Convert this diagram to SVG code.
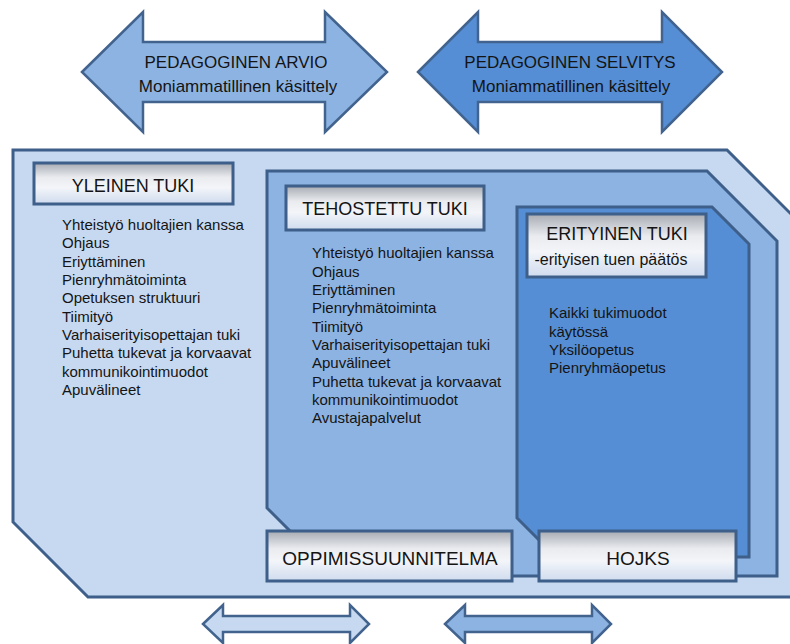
<svg xmlns="http://www.w3.org/2000/svg" width="790" height="644" viewBox="0 0 790 644">
  <defs>
    <linearGradient id="boxGrad" x1="0" y1="0" x2="0" y2="1">
      <stop offset="0" stop-color="#a7abb2"/>
      <stop offset="0.35" stop-color="#e9ebef"/>
      <stop offset="0.6" stop-color="#f3f5f9"/>
      <stop offset="1" stop-color="#cfdbee"/>
    </linearGradient>
  </defs>
  <style>
    .shape { stroke: #3d5f89; stroke-width: 3; stroke-linejoin: miter; }
    .arrow { stroke: #41638e; stroke-width: 2.5; stroke-linejoin: miter; }
    .light { fill: #c6d9f1; }
    .mid { fill: #8db3e2; }
    .dark { fill: #558ed5; }
    .box { fill: url(#boxGrad); stroke: #3d5f89; stroke-width: 3; }
    text { font-family: "Liberation Sans", Arial, sans-serif; fill: #141414; }
    .title { font-size: 18px; text-anchor: middle; }
    .big { font-size: 19px; text-anchor: middle; }
    .arrowtxt { font-size: 17px; text-anchor: middle; }
    .list { font-size: 15px; }
  </style>

  <rect width="790" height="644" fill="#ffffff"/>

  <g id="arvio">
    <polygon class="arrow mid" points="82,72 143,12 143,42 325,42 325,12 387,72 325,132 325,102 143,102 143,132"/>
    <text class="arrowtxt" x="236" y="68">PEDAGOGINEN ARVIO</text>
    <text class="arrowtxt" x="238" y="92">Moniammatillinen käsittely</text>
  </g>

  <g id="selvitys">
    <polygon class="arrow dark" points="418,72 478,12 478,42 662,42 662,12 722,72 662,132 662,102 478,102 478,132"/>
    <text class="arrowtxt" x="570" y="68">PEDAGOGINEN SELVITYS</text>
    <text class="arrowtxt" x="571" y="92">Moniammatillinen käsittely</text>
  </g>

  <g id="yleinen">
    <polygon class="shape light" points="13,150 727,150 794,217 794,597 88,597 13,522"/>
    <rect class="box" x="34" y="163" width="199" height="41"/>
    <text class="title" x="133" y="192">YLEINEN TUKI</text>
    <text class="list" x="62" y="230">
      <tspan x="62" y="230">Yhteistyö huoltajien kanssa</tspan>
      <tspan x="62" y="248.3">Ohjaus</tspan>
      <tspan x="62" y="266.7">Eriyttäminen</tspan>
      <tspan x="62" y="285">Pienryhmätoiminta</tspan>
      <tspan x="62" y="303.3">Opetuksen struktuuri</tspan>
      <tspan x="62" y="321.7">Tiimityö</tspan>
      <tspan x="62" y="340">Varhaiserityisopettajan tuki</tspan>
      <tspan x="62" y="358.3">Puhetta tukevat ja korvaavat</tspan>
      <tspan x="62" y="376.7">kommunikointimuodot</tspan>
      <tspan x="62" y="395">Apuvälineet</tspan>
    </text>
  </g>

  <g id="tehostettu">
    <polygon class="shape mid" points="267,171 707,171 777,241 777,576 335,576 267,508"/>
    <rect class="box" x="286" y="186" width="198" height="44"/>
    <text class="title" x="385" y="215">TEHOSTETTU TUKI</text>
    <text class="list" x="312" y="258.3">
      <tspan x="312" y="258.3">Yhteistyö huoltajien kanssa</tspan>
      <tspan x="312" y="276.7">Ohjaus</tspan>
      <tspan x="312" y="295">Eriyttäminen</tspan>
      <tspan x="312" y="313.3">Pienryhmätoiminta</tspan>
      <tspan x="312" y="331.7">Tiimityö</tspan>
      <tspan x="312" y="350">Varhaiserityisopettajan tuki</tspan>
      <tspan x="312" y="368.3">Apuvälineet</tspan>
      <tspan x="312" y="386.7">Puhetta tukevat ja korvaavat</tspan>
      <tspan x="312" y="405">kommunikointimuodot</tspan>
      <tspan x="312" y="423.3">Avustajapalvelut</tspan>
    </text>
  </g>

  <g id="erityinen">
    <polygon class="shape dark" points="517,207 712,207 749,244 749,557 556,557 517,518"/>
    <rect class="box" x="527" y="214" width="179" height="63"/>
    <text class="title" x="617" y="239.5">ERITYINEN TUKI</text>
    <text x="611" y="265" font-size="16" text-anchor="middle">-erityisen tuen päätös</text>
    <text class="list" x="549" y="318.3">
      <tspan x="549" y="318.3">Kaikki tukimuodot</tspan>
      <tspan x="549" y="336.7">käytössä</tspan>
      <tspan x="549" y="355">Yksilöopetus</tspan>
      <tspan x="549" y="373.3">Pienryhmäopetus</tspan>
    </text>
  </g>

  <g id="oppimissuunnitelma">
    <rect class="box" x="267" y="531" width="245" height="50"/>
    <text class="big" x="390" y="565">OPPIMISSUUNNITELMA</text>
  </g>

  <g id="hojks">
    <rect class="box" x="539" y="531" width="197" height="50"/>
    <text class="big" x="638" y="565">HOJKS</text>
  </g>

  <g id="connectors">
    <polygon class="arrow light" points="203,624 223,605 223,616 350,616 350,605 369,624 350,643 350,632 223,632 223,643"/>
    <polygon class="arrow mid" points="445,624 465,605 465,616 592,616 592,605 611,624 592,643 592,632 465,632 465,643"/>
  </g>
</svg>
